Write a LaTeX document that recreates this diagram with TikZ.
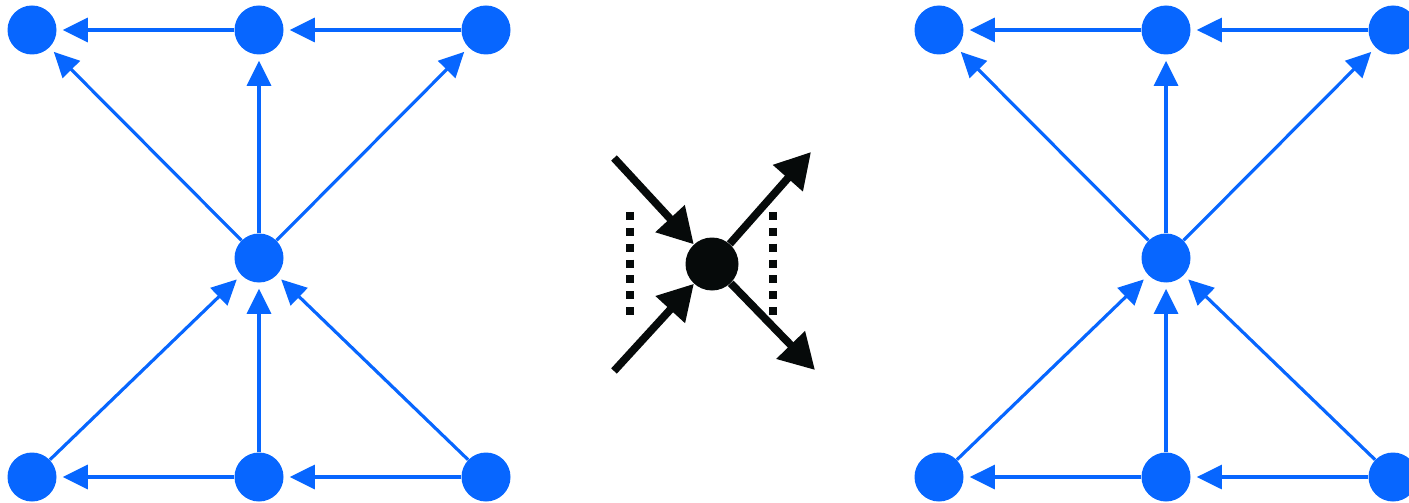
\documentclass[tikz,border=0pt]{standalone}
\usepackage{tikz}
\usetikzlibrary{arrows.meta, positioning, calc}
\definecolor{dotblue}{HTML}{0766FF}
\definecolor{dotblack}{HTML}{060A0A}
\newcommand{\vtx}[3]{%
  \node[circle, fill=dotblue, inner sep=0pt, minimum size=0.98cm] (#1) at (#2,#3) {};}
\tikzset{
  bluearrow/.style={-{Triangle[length=0.5cm, width=0.48cm]}, dotblue, line width=1.8pt,
                    shorten >=0.12cm},
  blackarrow/.style={-{Triangle[length=0.7cm, width=0.76cm]}, dotblack, line width=4.4pt},
  dotcol/.style={dotblack, line width=0.16cm, dash pattern=on 0.16cm off 0.157cm}
}

\begin{document}
\begin{tikzpicture}
  \useasboundingbox (0,0) rectangle (28.18,10.04);
  % left graph
  \vtx{ltl}{0.64}{9.44}
  \vtx{ltm}{5.18}{9.44}
  \vtx{ltr}{9.72}{9.44}
  \vtx{lc}{5.18}{4.88}
  \vtx{lbl}{0.64}{0.50}
  \vtx{lbm}{5.18}{0.50}
  \vtx{lbr}{9.72}{0.50}
  \draw[bluearrow] (ltm) -- (ltl);
  \draw[bluearrow] (ltr) -- (ltm);
  \draw[bluearrow] (lc) -- (ltl);
  \draw[bluearrow] (lc) -- (ltm);
  \draw[bluearrow] (lc) -- (ltr);
  \draw[bluearrow] (lbl) -- (lc);
  \draw[bluearrow] (lbm) -- (lc);
  \draw[bluearrow] (lbr) -- (lc);
  \draw[bluearrow] (lbm) -- (lbl);
  \draw[bluearrow] (lbr) -- (lbm);
  % right graph
  \vtx{rtl}{18.78}{9.44}
  \vtx{rtm}{23.32}{9.44}
  \vtx{rtr}{27.86}{9.44}
  \vtx{rc}{23.32}{4.88}
  \vtx{rbl}{18.78}{0.50}
  \vtx{rbm}{23.32}{0.50}
  \vtx{rbr}{27.86}{0.50}
  \draw[bluearrow] (rtm) -- (rtl);
  \draw[bluearrow] (rtr) -- (rtm);
  \draw[bluearrow] (rc) -- (rtl);
  \draw[bluearrow] (rc) -- (rtm);
  \draw[bluearrow] (rc) -- (rtr);
  \draw[bluearrow] (rbl) -- (rc);
  \draw[bluearrow] (rbm) -- (rc);
  \draw[bluearrow] (rbr) -- (rc);
  \draw[bluearrow] (rbm) -- (rbl);
  \draw[bluearrow] (rbr) -- (rbm);
  % vertex in the middle
  \node[circle, fill=dotblack, inner sep=0pt, minimum size=1.06cm] (mid) at (14.24,4.76) {};
  \coordinate (inA) at (12.28,6.88);
  \coordinate (inB) at (12.28,2.62);
  \coordinate (outA) at (16.22,7.00);
  \coordinate (outB) at (16.30,2.64);
  \draw[blackarrow] (inA) -- (mid);
  \draw[blackarrow] (inB) -- (mid);
  \draw[blackarrow] (mid) -- (outA);
  \draw[blackarrow] (mid) -- (outB);
  \coordinate (dlt) at (12.59,5.80);
  \coordinate (dlb) at (12.59,3.74);
  \coordinate (drt) at (15.46,5.80);
  \coordinate (drb) at (15.46,3.74);
  \draw[dotcol] (dlt) -- (dlb);
  \draw[dotcol] (drt) -- (drb);
\end{tikzpicture}
\end{document}
